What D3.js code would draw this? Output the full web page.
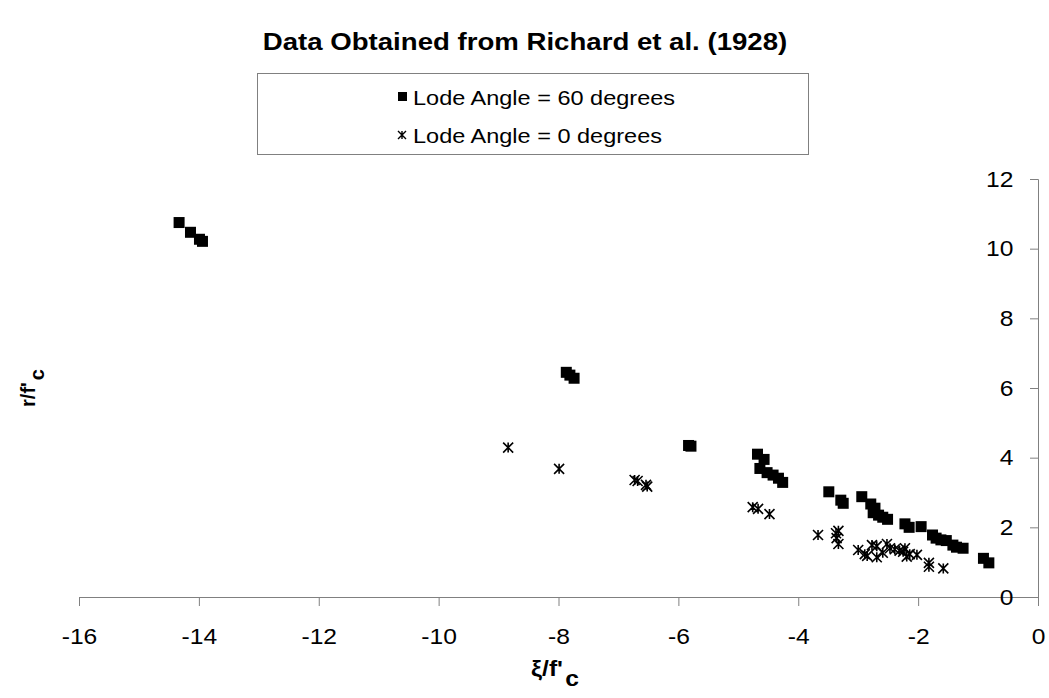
<!DOCTYPE html>
<html>
<head>
<meta charset="utf-8">
<script src="https://cdn.jsdelivr.net/npm/d3@7"></script>
<style>
  body { margin: 0; background: #fff; }
  text { font-family: "Liberation Sans", Arial, sans-serif; }
</style>
</head>
<body>
<div id="chart"></div>
<script>
// chart size
var svgWidth = 1049;
var svgHeight = 698;

// data: xi/f'c and r/f'c
var sixtyX = [-14.33, -14.14, -13.99, -13.94, -7.87, -7.81, -7.74, -5.83, -5.79,
  -4.68, -4.57, -4.64, -4.52, -4.42, -4.33, -4.26, -3.49, -3.29, -3.25, -2.94,
  -2.79, -2.72, -2.75, -2.66, -2.59, -2.51, -2.22, -2.15, -1.95, -1.76, -1.70,
  -1.62, -1.53, -1.42, -1.36, -1.25, -0.91, -0.82];
var sixtyY = [10.75, 10.47, 10.27, 10.21, 6.45, 6.37, 6.28, 4.35, 4.33,
  4.10, 3.95, 3.69, 3.57, 3.50, 3.41, 3.29, 3.02, 2.78, 2.69, 2.88,
  2.67, 2.55, 2.42, 2.35, 2.29, 2.23, 2.10, 2.00, 2.02, 1.78, 1.69,
  1.64, 1.62, 1.49, 1.43, 1.40, 1.11, 0.98];

var zeroX = [-8.84, -7.99, -6.73, -6.68, -6.54, -6.52, -4.76, -4.67, -4.48,
  -3.67, -3.37, -3.33, -3.36, -3.33, -3.00, -2.89, -2.85, -2.77, -2.69, -2.69,
  -2.59, -2.52, -2.47, -2.39, -2.31, -2.25, -2.22, -2.19, -2.14, -2.02, -1.82,
  -1.82, -1.58];
var zeroY = [4.29, 3.68, 3.36, 3.33, 3.22, 3.17, 2.58, 2.53, 2.38,
  1.78, 1.83, 1.90, 1.69, 1.52, 1.35, 1.23, 1.18, 1.49, 1.46, 1.14,
  1.27, 1.52, 1.40, 1.37, 1.33, 1.30, 1.40, 1.16, 1.23, 1.21, 0.98,
  0.87, 0.82];

var xTicks = [-16, -14, -12, -10, -8, -6, -4, -2, 0];
var yTicks = [0, 2, 4, 6, 8, 10, 12];
var legendLabels = ["Lode Angle = 60 degrees", "Lode Angle = 0 degrees"];

var axisColor = "#808080";
// the original text is a bit wider than Arial, stretch it
var stretch = "scale(1.12,1)";

var svg = d3.select("#chart")
  .append("svg")
  .attr("width", svgWidth)
  .attr("height", svgHeight);

// scales
var xScale = d3.scaleLinear().domain([-16, 0]).range([79, 1038]);
var yScale = d3.scaleLinear().domain([0, 12]).range([597, 179]);

// plain hyphen like the original, not a minus sign
var fmt = function(d) { return String(d); };

// title
svg.append("g")
  .attr("transform", "translate(525,50) scale(1.15,1)")
  .append("text")
  .attr("text-anchor", "middle")
  .attr("font-size", 24)
  .attr("font-weight", "bold")
  .text("Data Obtained from Richard et al. (1928)");

// x axis
var xAxis = d3.axisBottom(xScale).tickValues(xTicks).tickFormat(fmt).tickSize(9).tickPadding(22);
var gx = svg.append("g")
  .attr("transform", "translate(0," + yScale(0) + ")")
  .call(xAxis);
gx.select(".domain").attr("stroke", axisColor);
gx.selectAll(".tick line").attr("stroke", axisColor);
gx.selectAll(".tick text")
  .attr("fill", "#000")
  .attr("font-size", 22)
  .attr("font-family", "Liberation Sans, Arial, sans-serif")
  .attr("transform", stretch);

// y axis sits on the right (x = 0) with labels inside
var yAxis = d3.axisLeft(yScale).tickValues(yTicks).tickFormat(fmt).tickSize(8).tickPadding(14);
var gy = svg.append("g")
  .attr("transform", "translate(" + xScale(0) + ",0)")
  .call(yAxis);
gy.select(".domain").attr("stroke", axisColor);
gy.selectAll(".tick line").attr("stroke", axisColor);
gy.selectAll(".tick text")
  .attr("fill", "#000")
  .attr("font-size", 22)
  .attr("font-family", "Liberation Sans, Arial, sans-serif")
  .attr("transform", stretch);

// axis titles
var xTitle = svg.append("g")
  .attr("transform", "translate(555,676) " + stretch)
  .append("text")
  .attr("text-anchor", "middle")
  .attr("font-size", 22)
  .attr("font-weight", "bold");
xTitle.append("tspan").text("\u03BE/f'");
xTitle.append("tspan").attr("dy", 10).attr("dx", 2).text("c");

var yTitle = svg.append("text")
  .attr("transform", "translate(35,388) rotate(-90)")
  .attr("text-anchor", "middle")
  .attr("font-size", 20)
  .attr("font-weight", "bold");
yTitle.append("tspan").text("r/f'");
yTitle.append("tspan").attr("dy", 9).attr("dx", 2).text("c");

// star marker: an X with a vertical bar
function starPath(cx, cy, s) {
  var h = s / 2;
  return "M" + (cx - h) + "," + (cy - h) + "L" + (cx + h) + "," + (cy + h) +
    "M" + (cx - h) + "," + (cy + h) + "L" + (cx + h) + "," + (cy - h) +
    "M" + cx + "," + (cy - h) + "L" + cx + "," + (cy + h);
}

// lode angle 0 points
svg.append("g").selectAll("path")
  .data(zeroX)
  .enter()
  .append("path")
  .attr("d", function(d, i) { return starPath(xScale(d), yScale(zeroY[i]), 10); })
  .attr("stroke", "#000")
  .attr("stroke-width", 1.6)
  .attr("fill", "none");

// lode angle 60 points
svg.append("g").selectAll("rect")
  .data(sixtyX)
  .enter()
  .append("rect")
  .attr("x", function(d) { return xScale(d) - 5.5; })
  .attr("y", function(d, i) { return yScale(sixtyY[i]) - 5.5; })
  .attr("width", 11)
  .attr("height", 11)
  .attr("fill", "#000");

// legend
var legend = svg.append("g");
legend.append("rect")
  .attr("x", 257.5)
  .attr("y", 73.5)
  .attr("width", 551)
  .attr("height", 81)
  .attr("fill", "#fff")
  .attr("stroke", axisColor);
legend.append("rect")
  .attr("x", 398)
  .attr("y", 92)
  .attr("width", 9)
  .attr("height", 9)
  .attr("fill", "#000");
legend.append("path")
  .attr("d", starPath(402, 135, 8))
  .attr("stroke", "#000")
  .attr("stroke-width", 1.4)
  .attr("fill", "none");
legend.selectAll("g.leg")
  .data(legendLabels)
  .enter()
  .append("g")
  .attr("class", "leg")
  .attr("transform", function(d, i) { return "translate(413," + (105 + i * 38) + ") " + stretch; })
  .append("text")
  .attr("font-size", 21)
  .text(function(d) { return d; });
</script>
</body>
</html>
